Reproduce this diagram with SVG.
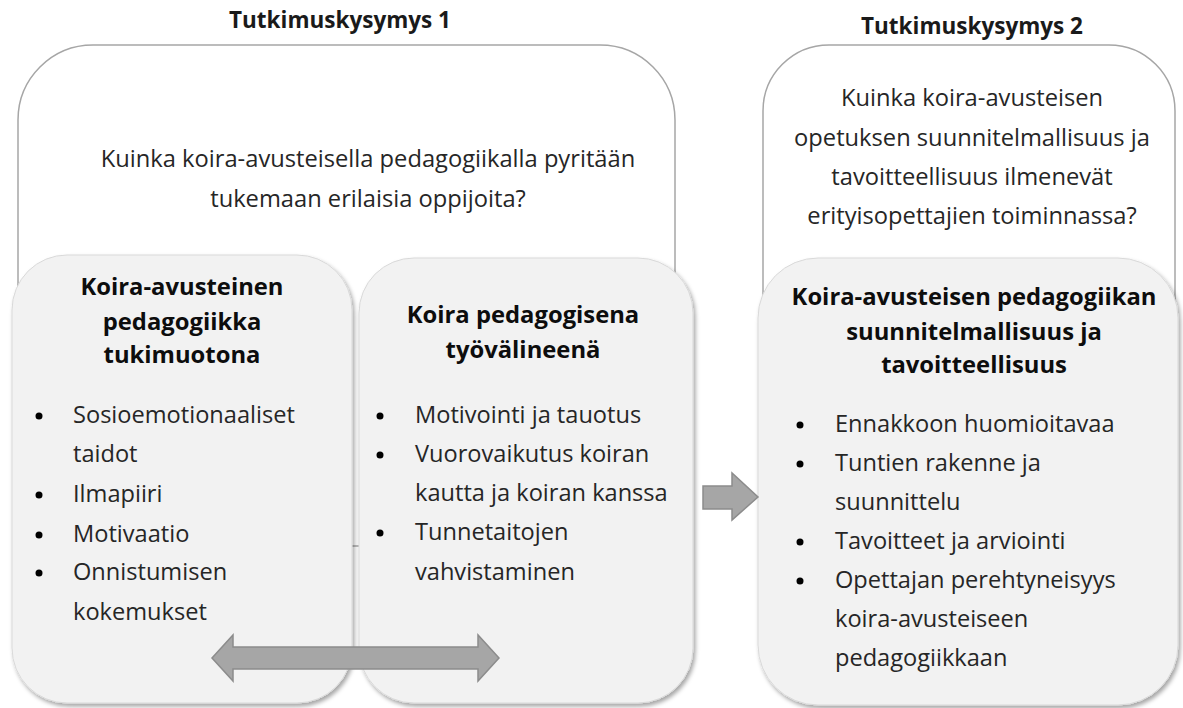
<svg xmlns="http://www.w3.org/2000/svg" width="1183" height="708" viewBox="0 0 1183 708">
  <defs>
    <filter id="sh" x="-10%" y="-10%" width="120%" height="120%">
      <feDropShadow dx="2" dy="3" stdDeviation="2" flood-color="#000" flood-opacity="0.35"/>
    </filter>
    <style>
      .title { font-family: "Open Sans", "Liberation Sans", sans-serif; font-weight: bold; font-size: 22.5px; fill: #1a1a1a; text-anchor: middle; }
      .q { font-family: "Open Sans", "Liberation Sans", sans-serif; font-size: 23.7px; fill: #262626; text-anchor: middle; }
      .h { font-family: "Open Sans", "Liberation Sans", sans-serif; font-weight: bold; font-size: 23.8px; fill: #0d0d0d; text-anchor: middle; }
      .b { font-family: "Open Sans", "Liberation Sans", sans-serif; font-size: 23.6px; fill: #262626; }
      .outer { fill: #ffffff; stroke: #a6a6a6; stroke-width: 1.5; }
      .inner { fill: #f2f2f2; stroke: #d9d9d9; stroke-width: 1; filter: url(#sh); }
      .dot { fill: #000; }
      .arrow { fill: #a6a6a6; stroke: #8c8c8c; stroke-width: 1.5; }
    </style>
  </defs>

  <g id="title1"><text class="title" x="340" y="28">Tutkimuskysymys 1</text></g>
  <g id="title2"><text class="title" x="972" y="34">Tutkimuskysymys 2</text></g>

  <g id="question1">
    <rect class="outer" x="18" y="45" width="657" height="501" rx="75" ry="75"/>
    <text class="q" x="368" y="167">Kuinka koira-avusteisella pedagogiikalla pyritään</text>
    <text class="q" x="368" y="207">tukemaan erilaisia oppijoita?</text>
  </g>

  <g id="question2">
    <rect class="outer" x="763" y="45" width="412" height="501" rx="66" ry="66"/>
    <text class="q" x="972" y="106">Kuinka koira-avusteisen</text>
    <text class="q" x="972" y="146">opetuksen suunnitelmallisuus ja</text>
    <text class="q" x="972" y="185">tavoitteellisuus ilmenevät</text>
    <text class="q" x="972" y="224">erityisopettajien toiminnassa?</text>
  </g>

  <g id="box1">
    <rect class="inner" x="12" y="255" width="340" height="448" rx="55" ry="55"/>
    <text class="h" x="182" y="295">Koira-avusteinen</text>
    <text class="h" x="182" y="330">pedagogiikka</text>
    <text class="h" x="182" y="363">tukimuotona</text>
    <circle class="dot" cx="39" cy="416" r="3.5"/>
    <text class="b" x="73" y="423">Sosioemotionaaliset</text>
    <text class="b" x="73" y="462">taidot</text>
    <circle class="dot" cx="39" cy="495" r="3.5"/>
    <text class="b" x="73" y="502">Ilmapiiri</text>
    <circle class="dot" cx="39" cy="535" r="3.5"/>
    <text class="b" x="73" y="542">Motivaatio</text>
    <circle class="dot" cx="39" cy="573" r="3.5"/>
    <text class="b" x="73" y="580">Onnistumisen</text>
    <text class="b" x="73" y="620">kokemukset</text>
  </g>

  <g id="box2">
    <rect class="inner" x="359" y="258" width="334" height="445" rx="55" ry="55"/>
    <text class="h" x="523" y="323">Koira pedagogisena</text>
    <text class="h" x="523" y="358">työvälineenä</text>
    <circle class="dot" cx="380" cy="416" r="3.5"/>
    <text class="b" x="415" y="423">Motivointi ja tauotus</text>
    <circle class="dot" cx="380" cy="455" r="3.5"/>
    <text class="b" x="415" y="462">Vuorovaikutus koiran</text>
    <text class="b" x="415" y="501">kautta ja koiran kanssa</text>
    <circle class="dot" cx="380" cy="533" r="3.5"/>
    <text class="b" x="415" y="540">Tunnetaitojen</text>
    <text class="b" x="415" y="580">vahvistaminen</text>
  </g>

  <g id="box3">
    <rect class="inner" x="758" y="258" width="420" height="447" rx="60" ry="60"/>
    <text class="h" x="974" y="305">Koira-avusteisen pedagogiikan</text>
    <text class="h" x="974" y="340">suunnitelmallisuus ja</text>
    <text class="h" x="974" y="373">tavoitteellisuus</text>
    <circle class="dot" cx="800" cy="425" r="3.5"/>
    <text class="b" x="835" y="432">Ennakkoon huomioitavaa</text>
    <circle class="dot" cx="800" cy="464" r="3.5"/>
    <text class="b" x="835" y="471">Tuntien rakenne ja</text>
    <text class="b" x="835" y="510">suunnittelu</text>
    <circle class="dot" cx="800" cy="542" r="3.5"/>
    <text class="b" x="835" y="549">Tavoitteet ja arviointi</text>
    <circle class="dot" cx="800" cy="581" r="3.5"/>
    <text class="b" x="835" y="588">Opettajan perehtyneisyys</text>
    <text class="b" x="835" y="627">koira-avusteiseen</text>
    <text class="b" x="835" y="666">pedagogiikkaan</text>
  </g>

  <g id="connectors">
    <polygon class="arrow" points="212,658 233,635 233,647 478,647 478,635 499,658 478,681 478,669 233,669 233,681"/>
    <polygon class="arrow" points="703,486 732,486 732,473 758,497 732,520 732,509 703,509"/>
  </g>
</svg>
